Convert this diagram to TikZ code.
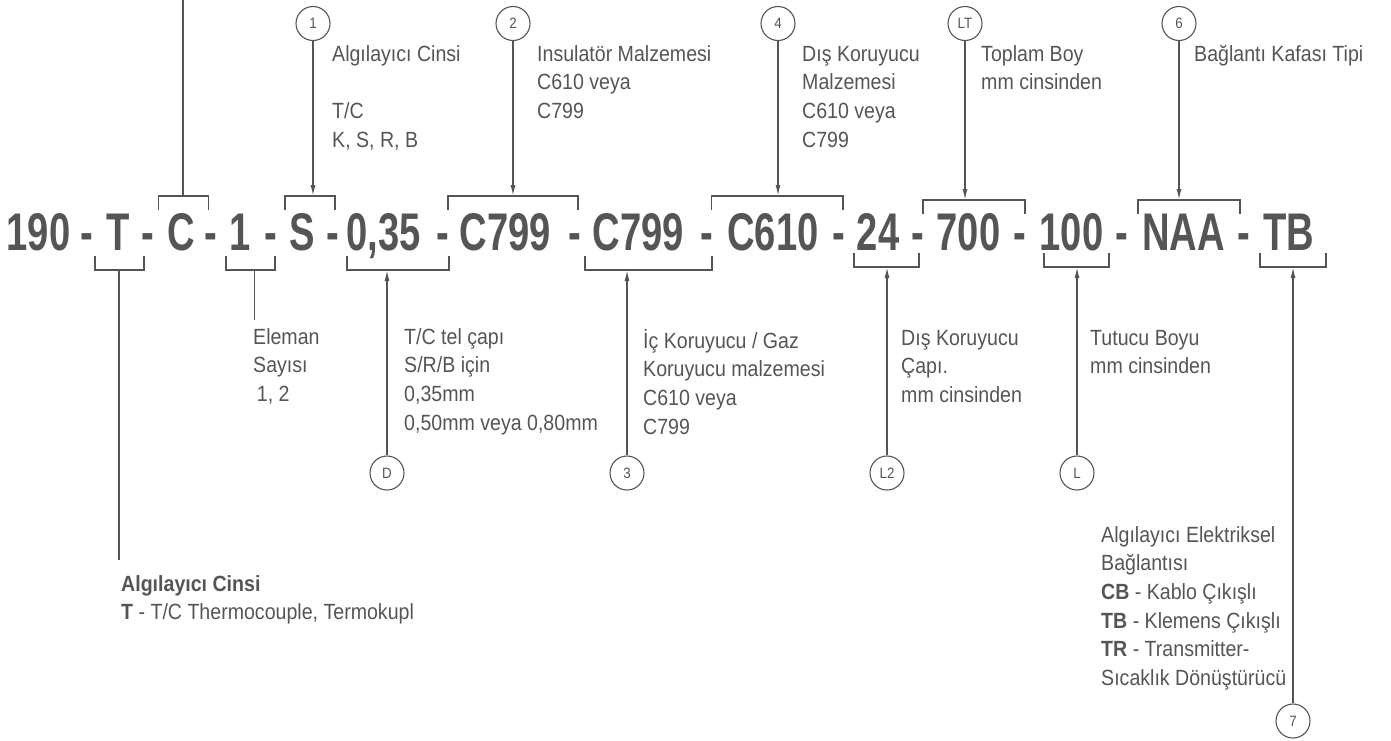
\documentclass[tikz,border=0pt]{standalone}
\usepackage{fontspec}
\usetikzlibrary{arrows.meta}
\newfontfamily\txtfont{Liberation Sans}[FakeStretch=0.89]
\newfontfamily\codefont{Liberation Sans}[FakeStretch=0.72]
\definecolor{ink}{HTML}{555555}
\newcommand{\mylines}[1]{\begin{tabular}[t]{@{}l@{}}#1\end{tabular}}
\begin{document}
\begin{tikzpicture}[x=1pt,y=-1pt,
  code/.style={font=\codefont\bfseries\fontsize{53}{60}\selectfont, text=ink, inner sep=0pt, anchor=base},
  txt/.style={font=\txtfont\fontsize{22}{28.7}\selectfont, text=ink, inner sep=0pt, anchor=base west},
  circ/.style={circle, draw=ink, line width=1.1pt, minimum size=34pt, inner sep=0pt, font=\txtfont\fontsize{15}{15}\selectfont, text=ink},
  br/.style={draw=ink, line width=1.6pt},
  ln/.style={draw=ink, line width=1.4pt},
  arr/.style={draw=ink, line width=1.4pt, -{Latex[length=11pt,width=5pt]}}]
\useasboundingbox (0,0) rectangle (1391,740);
% code line
\node[code] (c190) at (38.5,250) {190};
\node[code] (d1) at (87,250) {-};
\node[code] (cT) at (118,250) {T};
\node[code] (d2) at (148,250) {-};
\node[code] (cC) at (181.5,250) {C};
\node[code] (d3) at (211,250) {-};
\node[code] (cOne) at (240,250) {1};
\node[code] (d4) at (270.5,250) {-};
\node[code] (cS) at (302,250) {S};
\node[code] (d5) at (332.5,250) {-};
\node[code] (cD) at (383.5,250) {0,35};
\node[code] (d6) at (443,250) {-};
\node[code] (cIns) at (505.5,250) {C799};
\node[code] (d7) at (574.5,250) {-};
\node[code] (cIc) at (638.5,250) {C799};
\node[code] (d8) at (706.5,250) {-};
\node[code] (cDis) at (773,250) {C610};
\node[code] (d9) at (838.5,250) {-};
\node[code] (cL2) at (878,250) {24};
\node[code] (d10) at (917.7,250) {-};
\node[code] (cLT) at (968.5,250) {700};
\node[code] (d11) at (1019.5,250) {-};
\node[code] (cL) at (1071.5,250) {100};
\node[code] (d12) at (1122,250) {-};
\node[code] (cK) at (1183.5,250) {NAA};
\node[code] (d13) at (1244,250) {-};
\node[code] (cTB) at (1288.5,250) {TB};
% upper brackets
\draw[br] (158.5,210) |- (208.5,196) -- (208.5,210);
\draw[br] (285,210) |- (335,196) -- (335,210);
\draw[br] (448,210) |- (578,196) -- (578,210);
\draw[br] (711.5,210) |- (843,196) -- (843,210);
\draw[br] (923,214) |- (1025,200) -- (1025,214);
\draw[br] (1138,214) |- (1240,200) -- (1240,214);
% lower brackets
\draw[br] (95,256) |- (144,270) -- (144,256);
\draw[br] (226,256) |- (275,270) -- (275,256);
\draw[br] (347,256) |- (449,270) -- (449,256);
\draw[br] (585,256) |- (712,270) -- (712,256);
\draw[br] (854,253) |- (919,267) -- (919,253);
\draw[br] (1044,253) |- (1109,267) -- (1109,253);
\draw[br] (1260,253) |- (1326,267) -- (1326,253);
% bracket coordinates
\coordinate (topC) at (183,0);
\coordinate (bC) at (183,196);
\coordinate (bS) at (313,196);
\coordinate (bIns) at (513,196);
\coordinate (bDis) at (778,196);
\coordinate (bLT) at (965,200);
\coordinate (bK) at (1179,200);
\coordinate (bT) at (119,270);
\coordinate (endT) at (119,560);
\coordinate (bOne) at (254.5,270);
\coordinate (endOne) at (254.5,320);
\coordinate (bD) at (387,270);
\coordinate (bIc) at (627,270);
\coordinate (bL2) at (887,267);
\coordinate (bL) at (1077,267);
\coordinate (bTB) at (1293,267);
% circles
\node[circ] (k1) at (313,23.5) {1};
\node[circ] (k2) at (513,23.5) {2};
\node[circ] (k4) at (778,23.5) {4};
\node[circ] (kLT) at (965,23.5) {LT};
\node[circ] (k6) at (1179,23.5) {6};
\node[circ] (kD) at (387,473) {D};
\node[circ] (k3) at (627,473) {3};
\node[circ] (kL2) at (887,473) {L2};
\node[circ] (kL) at (1077,473) {L};
\node[circ] (k7) at (1293,721) {7};
% connectors
\draw[ln] (topC) -- (bC);
\draw[arr] (k1) -- (bS);
\draw[arr] (k2) -- (bIns);
\draw[arr] (k4) -- (bDis);
\draw[arr] (kLT) -- (bLT);
\draw[arr] (k6) -- (bK);
\draw[ln] (bT) -- (endT);
\draw[ln] (bOne) -- (endOne);
\draw[arr] (kD) -- (bD);
\draw[arr] (k3) -- (bIc);
\draw[arr] (kL2) -- (bL2);
\draw[arr] (kL) -- (bL);
\draw[arr] (k7) -- (bTB);
% top texts
\node[txt] (t1) at (332,61) {\mylines{Algılayıcı Cinsi\\ \\T/C\\K, S, R, B}};
\node[txt] (t2) at (537,61) {\mylines{Insulatör Malzemesi\\C610 veya\\C799}};
\node[txt] (t4) at (802,61) {\mylines{Dış Koruyucu\\Malzemesi\\C610 veya\\C799}};
\node[txt] (tLT) at (981,61) {\mylines{Toplam Boy\\mm cinsinden}};
\node[txt] (t6) at (1194,61) {\mylines{Bağlantı Kafası Tipi}};
% bottom texts
\node[txt] (tE) at (253,344) {\mylines{Eleman\\Sayısı\\\,1, 2}};
\node[txt] (tD) at (404,344) {\mylines{T/C tel çapı\\S/R/B için\\0,35mm\\0,50mm veya 0,80mm}};
\node[txt] (t3) at (643,348) {\mylines{İç Koruyucu / Gaz\\Koruyucu malzemesi\\C610 veya\\C799}};
\node[txt] (tL2) at (901,345) {\mylines{Dış Koruyucu\\Çapı.\\mm cinsinden}};
\node[txt] (tL) at (1090,345) {\mylines{Tutucu Boyu\\mm cinsinden}};
\node[txt] (tT) at (121,591) {\mylines{\textbf{Algılayıcı Cinsi}\\\textbf{T} - T/C Thermocouple, Termokupl}};
\node[txt] (t7) at (1101,542) {\mylines{Algılayıcı Elektriksel\\Bağlantısı\\\textbf{CB} - Kablo Çıkışlı\\\textbf{TB} - Klemens Çıkışlı\\\textbf{TR} - Transmitter-\\Sıcaklık Dönüştürücü}};
\end{tikzpicture}
\end{document}
